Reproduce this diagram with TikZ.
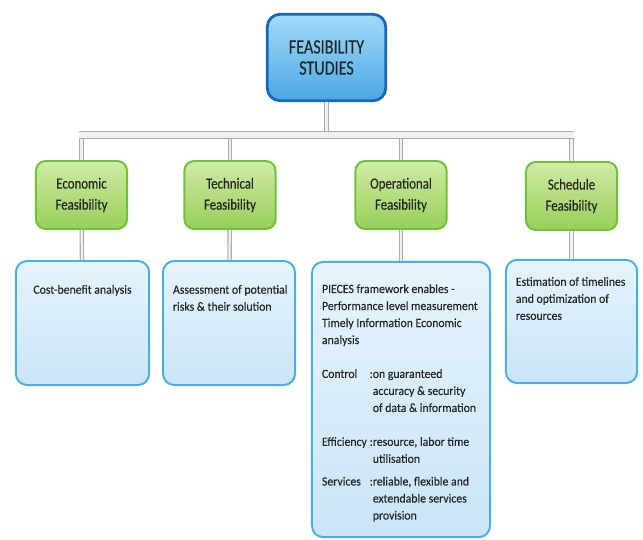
\documentclass[tikz,border=0pt]{standalone}
\usepackage{fontspec}
\setmainfont{Carlito}[FakeStretch=0.94, FakeBold=0.3]
\newfontfamily\kindfont{Carlito}[FakeStretch=0.83, FakeBold=0.3]
\newfontfamily\headfont{Carlito}[FakeStretch=0.79, FakeBold=0.3]

\definecolor{textdark}{HTML}{262626}
\definecolor{headedge}{HTML}{1A66B8}
\definecolor{headtop}{HTML}{A2DBF8}
\definecolor{headbot}{HTML}{4AA8E4}
\definecolor{kindedge}{HTML}{72C03A}
\definecolor{kindtop}{HTML}{D0EBA6}
\definecolor{kindbot}{HTML}{98CF58}
\definecolor{infoedge}{HTML}{4AAEE3}
\definecolor{infotop}{HTML}{E6F4FD}
\definecolor{infobot}{HTML}{C9E5F8}

\begin{document}
\begin{tikzpicture}[x=0.025cm, y=-0.025cm,
        headbox/.style={draw=headedge, line width=2pt, rounded corners=9pt,
            top color=headtop, bottom color=headbot, text=textdark,
            minimum width=2.96cm, minimum height=2.16cm, align=center,
            font=\headfont\fontsize{14.5}{15}\selectfont},
        kindbox/.style={draw=kindedge, line width=1.4pt, rounded corners=7pt,
            top color=kindtop, bottom color=kindbot, text=textdark,
            minimum width=2.28cm, minimum height=1.7cm, align=center,
            font=\kindfont\fontsize{11}{15}\selectfont},
        infobox/.style={draw=infoedge, line width=1.4pt, rounded corners=8pt,
            top color=infotop, bottom color=infobot, text=textdark,
            inner xsep=0.25cm, inner ysep=0.3cm,
            font=\fontsize{8.9}{12.1}\selectfont},
        link/.style={draw=gray!65, line width=0.8pt, double=gray!12, double distance=1.6pt}
    ]
    \useasboundingbox (0,0) rectangle (643,539);

    % main topic
    \node[headbox] (feas) at (326.5,57.5) {FEASIBILITY\\STUDIES};

    % kinds of feasibility
    \node[kindbox] (econ) at (81.5,195) {Economic\\Feasibility};
    \node[kindbox] (tech) at (230,195) {Technical\\Feasibility};
    \node[kindbox] (oper) at (401,195) {Operational\\Feasibility};
    \node[kindbox] (sched) at (571.5,196) {Schedule\\Feasibility};

    % what each one looks at
    \node[infobox] (econinfo) at (82.5,323)
        {\parbox[c][2.5cm][t]{2.83cm}{\vspace*{0.22cm}\centering
            \begin{tabular}[t]{@{}c@{}}Cost-benefit analysis\end{tabular}}};
    \node[infobox] (techinfo) at (229,323)
        {\parbox[c][2.5cm][t]{2.8cm}{\vspace*{0.22cm}
            \begin{tabular}[t]{@{}l@{}}Assessment of potential\\risks \& their solution\end{tabular}}};
    \node[infobox] (operinfo) at (401,399.5)
        {\parbox[c][6.28cm][t]{3.95cm}{\vspace*{0.18cm}
            \begin{tabular}[t]{@{}l@{\hspace{2pt}}l@{}l@{}}
                \multicolumn{3}{@{}l@{}}{PIECES framework enables -}\\
                \multicolumn{3}{@{}l@{}}{Performance level measurement}\\
                \multicolumn{3}{@{}l@{}}{Timely Information Economic}\\
                \multicolumn{3}{@{}l@{}}{analysis}\\[12pt]
                Control & :& on guaranteed\\
                        &  & accuracy \& security\\
                        &  & of data \& information\\[12pt]
                Efficiency & :& resource, labor time\\
                           &  & utilisation\\[4pt]
                Services & :& reliable, flexible and\\
                         &  & extendable services\\
                         &  & provision
            \end{tabular}}};
    \node[infobox] (schedinfo) at (571.5,321.5)
        {\parbox[c][2.48cm][t]{2.78cm}{\vspace*{0.05cm}
            \begin{tabular}[t]{@{}l@{}}Estimation of timelines\\and optimization of\\resources\end{tabular}}};

    % connectors
    \coordinate (bar) at (0,135);
    \draw[link] (feas) -- (feas |- bar);
    \foreach \k in {econ, tech, oper, sched} {
        \draw[link] (\k |- bar) -- (\k);
        \draw[link] (\k) -- (\k info);
    }
    \draw[link, double distance=4pt] ([xshift=-1.5pt]econ |- bar) -- ([xshift=1.5pt]sched |- bar);
\end{tikzpicture}
\end{document}
